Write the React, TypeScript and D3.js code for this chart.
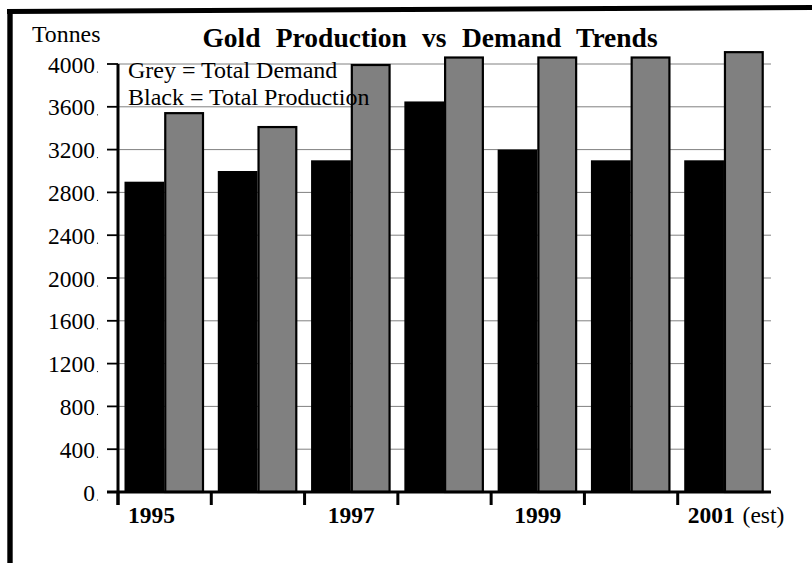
import React from "react";
import * as d3 from "d3";

// Gold production vs demand, tonnes per year
const years = ["1995", "1996", "1997", "1998", "1999", "2000", "2001"];
const production = [2900, 3000, 3100, 3650, 3200, 3100, 3100];
const demand = [3550, 3420, 4000, 4070, 4070, 4070, 4120];
const yTicks = [0, 400, 800, 1200, 1600, 2000, 2400, 2800, 3200, 3600, 4000];
const yearLabels = ["1995", "", "1997", "", "1999", "", "2001"];
const seriesKeys = ["production", "demand"];

const W = 812;
const H = 563;
const FONT = "'Liberation Serif', 'Times New Roman', Times, serif";

export default function App() {
  const x = d3.scaleBand<string>().domain(years).range([118, 771]).padding(0);
  const sub = d3.scaleBand<string>().domain(seriesKeys).range([6.5, 86]).padding(0);
  const y = d3.scaleLinear().domain([0, 4000]).range([492, 64]);
  const base = y(0);

  return (
    <svg
      width={W}
      height={H}
      style={{ position: "fixed", left: 0, top: 0, background: "#fff" }}
      fontFamily={FONT}
    >
      {/* frame */}
      <line x1={7} y1={11.5} x2={812} y2={7.5} stroke="#000" strokeWidth={5} />
      <line x1={10} y1={9} x2={10} y2={H} stroke="#000" strokeWidth={5.4} />

      {/* title and axis caption */}
      <text x={430} y={47} textAnchor="middle" fontSize={27.5} fontWeight="bold" wordSpacing={8.5}>
        Gold Production vs Demand Trends
      </text>
      <text x={32} y={41.5} fontSize={23.8}>Tonnes</text>

      {/* gridlines */}
      {yTicks.filter((t) => t > 0).map((t) => (
        <line key={"g" + t} x1={118} x2={771} y1={y(t)} y2={y(t)} stroke="#808080" strokeWidth={1} />
      ))}

      {/* bars */}
      {years.map((yr, i) => {
        const x0 = x(yr)!;
        const px = x0 + sub("production")!;
        const gx = x0 + sub("demand")!;
        const bw = sub.bandwidth();
        return (
          <g key={yr}>
            <rect x={px} y={y(production[i])} width={bw} height={base - y(production[i])} fill="#000" />
            <rect
              x={gx + 1}
              y={y(demand[i]) + 1}
              width={bw - 2}
              height={base - y(demand[i]) - 1}
              fill="#808080"
              stroke="#000"
              strokeWidth={2.2}
            />
          </g>
        );
      })}

      {/* y axis */}
      <line x1={118} x2={118} y1={y(4000)} y2={505} stroke="#000" strokeWidth={3} />
      {yTicks.map((t) => (
        <g key={"t" + t}>
          <line x1={107} x2={118} y1={y(t)} y2={y(t)} stroke="#000" strokeWidth={1.8} />
          <text x={95} y={y(t) + 8.5} textAnchor="end" fontSize={23.5}>
            {t}
          </text>
          <circle cx={97.5} cy={y(t) + 8} r={0.6} fill="#000" />
        </g>
      ))}

      {/* x axis */}
      <line x1={107} x2={771} y1={base} y2={base} stroke="#000" strokeWidth={3} />
      {years.map((yr) => (
        <line key={"xt" + yr} x1={x(yr)!} x2={x(yr)!} y1={base} y2={505} stroke="#000" strokeWidth={3} />
      ))}
      {yearLabels.map((lab, i) => {
        if (!lab) return null;
        const x0 = x(years[i])!;
        const edge = i === 0 || i === years.length - 1;
        return (
          <text
            key={"xl" + i}
            x={edge ? x0 + 10 : x0 + x.bandwidth() / 2}
            y={523}
            textAnchor={edge ? "start" : "middle"}
            fontSize={23.5}
            fontWeight="bold"
          >
            {lab}
            {i === years.length - 1 ? <tspan fontWeight="normal" dx={2}> (est)</tspan> : null}
          </text>
        );
      })}

      {/* legend note */}
      <text x={128} y={77.5} fontSize={24}>Grey = Total Demand</text>
      <text x={128} y={105} fontSize={24}>Black = Total Production</text>
    </svg>
  );
}
